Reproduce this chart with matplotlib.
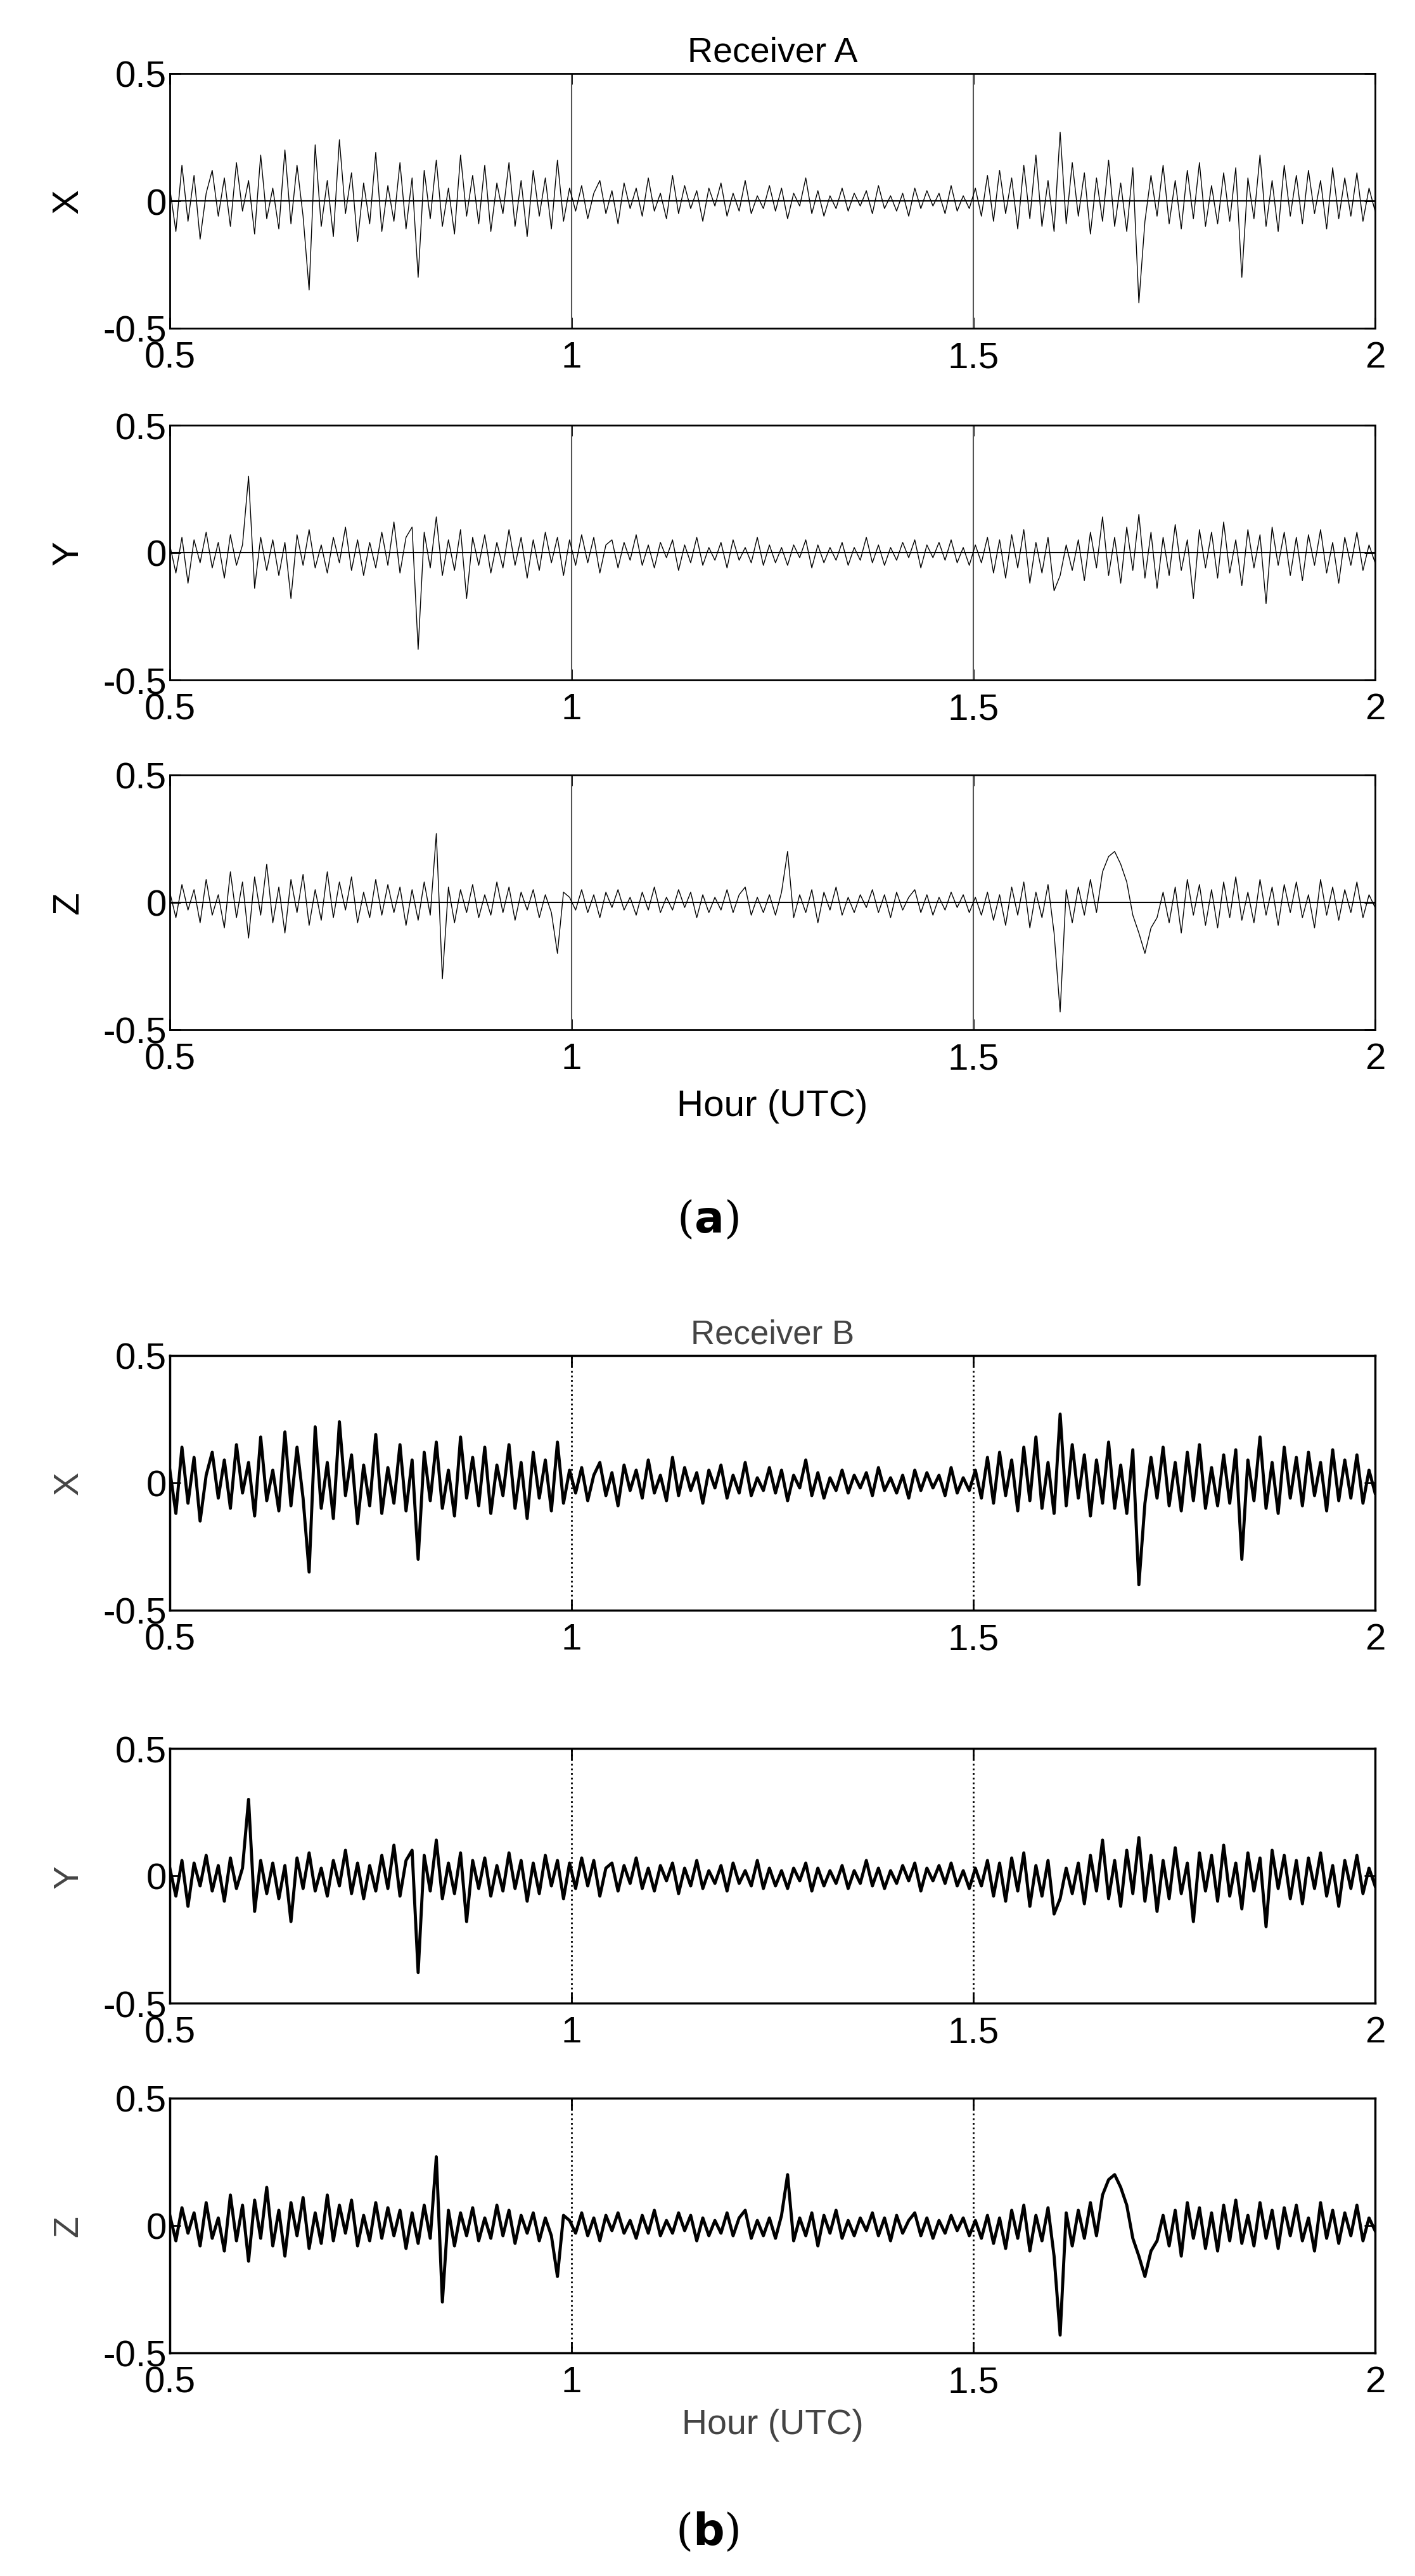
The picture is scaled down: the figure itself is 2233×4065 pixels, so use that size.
import numpy as np
import matplotlib
matplotlib.use('Agg')
import matplotlib.pyplot as plt

# values in hundredths, evenly spaced 0.5 .. 2 h
X_VALS = [5, -12, 14, -8, 10, -15, 3, 12, -6, 9, -10, 15, -4, 8, -13, 18, -7, 5, -11, 20,
          -9, 14, -6, -35, 22, -10, 8, -14, 24, -5, 11, -16, 7, -9, 19, -12, 6, -8, 15, -11,
          9, -30, 12, -7, 16, -10, 5, -13, 18, -6, 10, -9, 14, -12, 7, -5, 15, -10, 8, -14,
          12, -6, 9, -11, 16, -8, 5,
          -4, 6, -7, 3, 8, -5, 4, -9, 7, -3, 5, -6, 9, -4, 3, -7, 10, -5, 6, -3, 4, -8, 5, -2,
          7, -6, 3, -4, 8, -5, 2, -3, 6,
          -4, 5, -7, 3, -2, 9, -5, 4, -6, 2, -3, 5, -4, 3, -2, 4, -5, 6, -3, 2, -4, 3, -6, 5,
          -3, 4, -2, 3, -5, 6, -4, 2, -3, 5,
          -6, 10, -8, 12, -5, 9, -11, 14, -7, 18, -10, 8, -12, 27, -9, 15, -6, 11, -13, 9,
          -8, 16, -10, 7, -12, 13, -40, -8, 10, -6, 14, -9, 8, -11, 12, -7, 15, -10, 6, -9,
          11, -8, 13, -30, 9, -7, 18, -10, 8, -12, 14, -6, 10, -9, 12, -5, 8, -11, 13, -7,
          9, -6, 11, -8, 5, -4]
Y_VALS = [3, -8, 6, -12, 5, -4, 8, -6, 4, -10, 7, -5, 3, 30, -14, 6, -7, 5, -9, 4,
          -18, 7, -5, 9, -6, 3, -8, 6, -4, 10, -7, 5, -9, 4, -6, 8, -5, 12, -8, 6,
          10, -38, 8, -6, 14, -9, 5, -7, 9, -18, 6, -5, 7, -8, 4, -6, 9, -5, 6, -10,
          5, -7, 8, -4, 6, -9, 5,
          -5, 7, -4, 6, -8, 3, 5, -6, 4, -3, 7, -5, 3, -6, 4, -2, 5, -7, 3, -4, 6, -5, 2, -3,
          4, -6, 5, -3, 2, -4, 6, -5, 3,
          -4, 2, -5, 3, -2, 5, -6, 3, -4, 2, -3, 4, -5, 2, -3, 6, -4, 3, -5, 2, -3, 4, -2, 5,
          -6, 3, -2, 4, -3, 5, -4, 2, -5, 3,
          -4, 6, -8, 5, -10, 7, -6, 9, -12, 4, -8, 6, -15, -9, 3, -7, 5, -11, 8, -6,
          14, -9, 6, -12, 10, -7, 15, -10, 8, -14, 6, -9, 11, -7, 5, -18, 9, -6, 8, -10,
          12, -8, 5, -13, 9, -6, 7, -20, 10, -5, 8, -9, 6, -11, 7, -5, 9, -8, 4, -12,
          6, -5, 8, -7, 3, -4]
Z_VALS = [4, -6, 7, -3, 5, -8, 9, -5, 3, -10, 12, -6, 8, -14, 10, -5, 15, -8, 6, -12,
          9, -4, 11, -9, 5, -7, 12, -6, 8, -3, 10, -8, 4, -6, 9, -5, 7, -4, 6, -9,
          5, -7, 8, -5, 27, -30, 6, -8, 5, -4, 7, -6, 3, -5, 8, -4, 6, -7, 4, -3,
          5, -6, 3, -4, -20, 4, 2,
          -3, 5, -4, 3, -6, 4, -2, 5, -3, 2, -5, 4, -3, 6, -4, 2, -3, 5, -2, 4, -6, 3, -4, 2,
          -3, 5, -4, 3, 6, -5, 2, -4, 3,
          -5, 4, 20, -6, 3, -4, 5, -8, 4, -3, 6, -5, 2, -4, 3, -2, 5, -4, 3, -6, 4, -3, 2, 5,
          -4, 3, -5, 2, -3, 4, -2, 3, -4, 2,
          -5, 4, -7, 3, -9, 6, -5, 8, -10, 4, -6, 7, -12, -43, 5, -8, 6, -5, 9, -4,
          12, 18, 20, 15, 8, -5, -12, -20, -10, -6, 4, -8, 6, -12, 9, -5, 7, -9, 5, -10,
          8, -6, 10, -7, 4, -8, 9, -5, 6, -9, 7, -4, 8, -6, 3, -10, 9, -5, 6, -7,
          5, -4, 8, -6, 3, -2]

SERIES = [('X', X_VALS), ('Y', Y_VALS), ('Z', Z_VALS)]
XTICKS = [0.5, 1, 1.5, 2]
YTICKS = [-0.5, 0, 0.5]

W, H = 2233, 4066
plt.rcParams['font.family'] = ['Liberation Sans', 'DejaVu Sans']
fig = plt.figure(figsize=(W / 100, H / 100), dpi=100)

left, right = 268 / W, 2170 / W
tops_a = [117, 672, 1224]
tops_b = [2140, 2760, 3312]
ax_h = 402


def make_ax(top, style):
    ax = fig.add_axes([left, 1 - (top + ax_h) / H, right - left, ax_h / H])
    ax.set_xlim(0.5, 2)
    ax.set_ylim(-0.5, 0.5)
    ax.set_xticks(XTICKS)
    ax.set_xticklabels(['0.5', '1', '1.5', '2'])
    ax.set_yticks(YTICKS)
    ax.set_yticklabels(['-0.5', '0', '0.5'])
    ax.tick_params(direction='in', top=True, right=True, labelsize=42, length=12, width=2)
    ax.tick_params(axis='x', pad=14)
    for s in ax.spines.values():
        s.set_linewidth(2 if style == 'a' else 2.5)
    return ax


for (name, vals), top in zip(SERIES, tops_a):
    v = np.array(vals) / 100.0
    t = np.linspace(0.5, 2, len(v))
    ax = make_ax(top, 'a')
    for g in [1, 1.5]:
        ax.axvline(g, color='#555555', lw=1.5)
    ax.axhline(0, color='black', lw=1.5)
    ax.plot(t, v, color='black', lw=1.0)
    ax.set_ylabel(name, fontsize=42, rotation=90, labelpad=20)
    if name == 'X':
        ax.set_title('Receiver A', fontsize=40, pad=14)
    if name == 'Z':
        ax.set_xlabel('Hour (UTC)', fontsize=42, labelpad=14)

fig.text(0.5, 1 - 1925 / H, r'($\mathbf{a}$)', ha='center', va='center', fontsize=50,
         family='DejaVu Serif')

for (name, vals), top in zip(SERIES, tops_b):
    v = np.array(vals) / 100.0
    t = np.linspace(0.5, 2, len(v))
    ax = make_ax(top, 'b')
    for g in [1, 1.5]:
        ax.axvline(g, color='black', lw=2, ls=':')
    ax.plot(t, v, color='black', lw=3.5)
    ax.set_ylabel(name, fontsize=40, color='#444444', labelpad=20)
    if name == 'X':
        ax.set_title('Receiver B', fontsize=38, color='#444444', pad=14)
    if name == 'Z':
        ax.set_xlabel('Hour (UTC)', fontsize=40, color='#444444', labelpad=10)

fig.text(0.5, 1 - 3996 / H, r'($\mathbf{b}$)', ha='center', va='center', fontsize=50,
         family='DejaVu Serif')

fig.savefig('out.png', dpi=100)
